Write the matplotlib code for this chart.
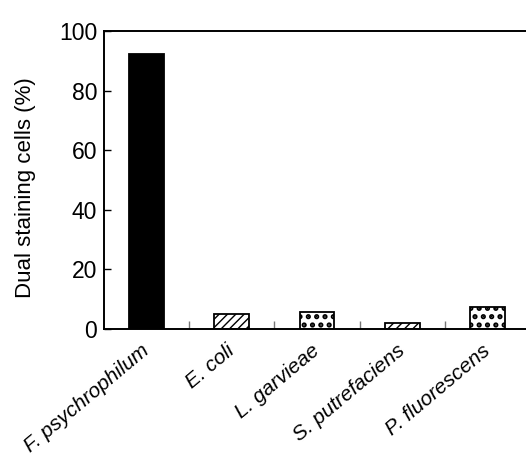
import numpy as np
import matplotlib.pyplot as plt

plt.rcParams['font.family'] = ['Liberation Sans', 'DejaVu Sans']
plt.rcParams['hatch.linewidth'] = 1.0

species = ["F. psychrophilum", "E. coli", "L. garvieae", "S. putrefaciens", "P. fluorescens"]
dual = [92.3, 4.9, 5.8, 1.9, 7.3]
hatches = ["", "////", "..", "////", ".."]
colors = ["black", "white", "white", "white", "white"]

fig = plt.figure(figsize=(5.26, 4.62), dpi=100)
ax = fig.add_axes([0.1977, 0.2879, 0.8099, 0.645])

x = np.arange(len(species))
bars = ax.bar(x, dual, width=0.41, color=colors, edgecolor="black", linewidth=1.3)
for b, h in zip(bars, hatches):
    b.set_hatch(h)
    # dots drawn a bit heavier than the diagonal lines
    if h.startswith(".") and hasattr(b, "set_hatch_linewidth"):
        b.set_hatch_linewidth(2.5)

ax.set_xlim(-0.5, len(species) - 0.5)
ax.set_ylim(0, 100)
ax.set_yticks([0, 20, 40, 60, 80, 100])
ax.tick_params(axis="y", direction="in", length=5, width=1, labelsize=16.5, pad=5)

ax.set_xticks(x)
ax.set_xticklabels(species, rotation=40, ha="right", va="center", rotation_mode="anchor",
                   fontsize=15, fontstyle="italic")
ax.tick_params(axis="x", which="major", length=0, pad=14)
ax.set_xticks(x[:-1] + 0.5, minor=True)
ax.tick_params(axis="x", which="minor", direction="in", length=6, width=1, color="#777777")

for s in ["left", "bottom", "top", "right"]:
    ax.spines[s].set_linewidth(1.4)

ax.set_ylabel("Dual staining cells (%)", fontsize=16)
ax.yaxis.set_label_coords(-0.160, 0.476)

fig.savefig("out.png", dpi=100)
